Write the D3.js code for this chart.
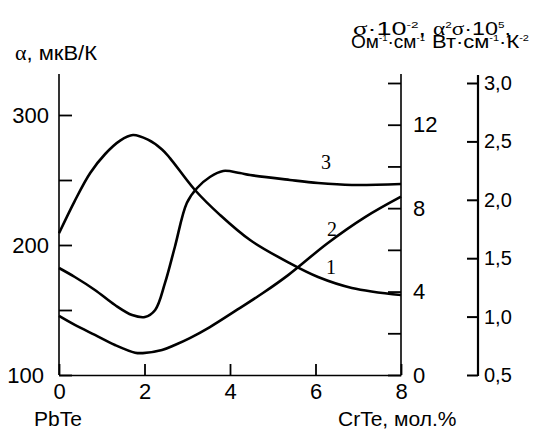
<!DOCTYPE html>
<html>
<head>
<meta charset="utf-8">
<script src="https://cdn.jsdelivr.net/npm/d3@7"></script>
<style>
body { margin: 0; background: #fff; }
</style>
</head>
<body>
<div id="chart"></div>
<script>
// tick values
const xTicks = [0, 2, 4, 6, 8];
const alphaTicks = [100, 150, 200, 250, 300];
const sigmaTicks = [2, 4, 6, 8, 10, 12, 14];
const powerTicks = [0.5, 1.0, 1.5, 2.0, 2.5, 3.0];

// curve 1: alpha, мкВ/К (left axis)
const alphaX = [0, 0.37, 0.73, 1.08, 1.43, 1.73, 2.08, 2.41, 2.6, 3.18, 3.77, 4.47, 5.4, 6.06, 6.85, 8];
const alphaY = [209, 234, 255.4, 270, 280.3, 284.6, 281, 273.5, 266.7, 242.3, 223, 203.8, 186, 175.4, 167, 161.5];

// curve 2: sigma*10^-2, Ом^-1·см^-1 (first right axis)
const sigmaX = [0, 0.37, 0.84, 1.31, 1.78, 1.96, 2.41, 2.71, 3.06, 3.53, 4.16, 4.77, 5.36, 6.29, 7.16, 8];
const sigmaY = [2.83, 2.40, 1.92, 1.44, 1.07, 1.05, 1.20, 1.44, 1.77, 2.30, 3.12, 3.93, 4.79, 6.33, 7.57, 8.55];

// curve 3: alpha^2*sigma*10^5, Вт·см^-1·К^-2 (second right axis)
const powerX = [0, 0.37, 0.84, 1.31, 1.71, 2.01, 2.25, 2.48, 2.71, 2.99, 3.23, 3.53, 3.84, 4.23, 4.47, 5.4, 6.06, 6.85, 8];
const powerY = [1.416, 1.339, 1.228, 1.099, 1.014, 0.997, 1.057, 1.288, 1.596, 1.973, 2.101, 2.195, 2.247, 2.229, 2.212, 2.170, 2.144, 2.127, 2.135];

const width = 536, height = 430;
const plotL = 59, plotR = 401, plotB = 375, plotT = 74;
const thirdX = 478;
const sans = "'Liberation Sans', Arial, sans-serif";
const serif = "'Liberation Serif', 'Times New Roman', serif";

const svg = d3.select("#chart").append("svg")
    .attr("width", width)
    .attr("height", height)
    .style("font-family", sans);

const x = d3.scaleLinear().domain([0, 8]).range([plotL, plotR]);
const yA = d3.scaleLinear().domain([100, 300]).range([plotB, 115]);
const yS = d3.scaleLinear().domain([0, 14]).range([plotB, 83]);
const yP = d3.scaleLinear().domain([0.5, 3.0]).range([plotB, 83]);

// frame lines
svg.append("line").attr("x1", plotL).attr("x2", plotL).attr("y1", plotT).attr("y2", plotB)
    .attr("stroke", "#000").attr("stroke-width", 1.6);
svg.append("line").attr("x1", plotR).attr("x2", plotR).attr("y1", plotT).attr("y2", plotB)
    .attr("stroke", "#000").attr("stroke-width", 1.6);
svg.append("line").attr("x1", thirdX).attr("x2", thirdX).attr("y1", 75).attr("y2", plotB + 1)
    .attr("stroke", "#000").attr("stroke-width", 2.2);

function styleTicks(g, size, w) {
    g.selectAll(".tick line").attr("stroke-width", w);
    g.selectAll(".tick text").attr("font-size", size).attr("fill", "#000").attr("font-family", sans);
}

// bottom axis
svg.append("g")
    .attr("transform", `translate(0,${plotB})`)
    .call(d3.axisBottom(x).tickValues(xTicks).tickSizeInner(-11).tickSizeOuter(0).tickPadding(8))
    .call(g => g.select(".domain").attr("stroke-width", 1.6))
    .call(g => styleTicks(g, 22, 1.8));

// left axis (alpha)
svg.append("g")
    .attr("transform", `translate(${plotL},0)`)
    .call(d3.axisLeft(yA).tickValues(alphaTicks).tickSizeInner(-13).tickSizeOuter(0).tickPadding(10)
        .tickFormat(d => d % 100 === 0 ? d : ""))
    .call(g => g.select(".domain").remove())
    .call(g => styleTicks(g, 22, 1.8))
    .call(g => g.selectAll(".tick text").filter(d => d === 100).attr("x", -15));

// first right axis (sigma)
svg.append("g")
    .attr("transform", `translate(${plotR},0)`)
    .call(d3.axisRight(yS).tickValues([0].concat(sigmaTicks)).tickSizeInner(-13).tickSizeOuter(0).tickPadding(12)
        .tickFormat(d => d % 4 === 0 ? d : ""))
    .call(g => g.select(".domain").remove())
    .call(g => styleTicks(g, 22, 1.8));

// second right axis (alpha^2 sigma)
svg.append("g")
    .attr("transform", `translate(${thirdX},0)`)
    .call(d3.axisRight(yP).tickValues(powerTicks).tickSizeInner(-11).tickSizeOuter(0).tickPadding(6)
        .tickFormat(d => d3.format(".1f")(d).replace(".", ",")))
    .call(g => g.select(".domain").remove())
    .call(g => styleTicks(g, 20, 2));

// curves
const curves = [
    { xs: alphaX, ys: alphaY, y: yA },
    { xs: sigmaX, ys: sigmaY, y: yS },
    { xs: powerX, ys: powerY, y: yP }
];
curves.forEach(c => {
    const pts = c.xs.map((v, i) => [v, c.ys[i]]);
    const line = d3.line()
        .x(d => x(d[0]))
        .y(d => c.y(d[1]))
        .curve(d3.curveCatmullRom.alpha(0.5));
    svg.append("path")
        .datum(pts)
        .attr("d", line)
        .attr("fill", "none")
        .attr("stroke", "#000")
        .attr("stroke-width", 2.6);
});

// curve numbers
[["1", 331, 274], ["2", 332, 236], ["3", 326, 169]].forEach(([t, px, py]) => {
    svg.append("text").attr("x", px).attr("y", py).attr("text-anchor", "middle")
        .attr("font-family", serif).attr("font-size", 20).text(t);
});

// text with superscripts, stretched to a given width
function rich(px, py, parts, size, len) {
    const t = svg.append("text").attr("x", px).attr("y", py).attr("font-size", size);
    if (len) t.attr("textLength", len).attr("lengthAdjust", "spacingAndGlyphs");
    let up = false;
    parts.forEach(p => {
        const sup = p.sup === true;
        const ts = t.append("tspan").text(p.t);
        if (p.greek) ts.attr("font-family", serif);
        if (sup) ts.attr("font-size", size * 0.5);
        if (sup && !up) { ts.attr("dy", -size * 0.4); up = true; }
        else if (!sup && up) { ts.attr("dy", size * 0.4); up = false; }
    });
    return t;
}

rich(15, 60, [{ t: "α", greek: true }, { t: ", мкВ/К" }], 20, 82);

rich(353, 35, [{ t: "σ", greek: true }, { t: "·10" }, { t: "-2", sup: true }, { t: "," }], 18, 73);
rich(351, 48, [{ t: "Ом" }, { t: "-1", sup: true }, { t: "·см" }, { t: "-1", sup: true }], 18, 74);
rich(433, 35, [{ t: "α", greek: true }, { t: "2", sup: true }, { t: "σ", greek: true }, { t: "·10" }, { t: "5", sup: true }, { t: "," }], 18, 78);
rich(432, 48, [{ t: "Вт·см" }, { t: "-1", sup: true }, { t: "·К" }, { t: "-2", sup: true }], 18, 97);

svg.append("text").attr("x", 34).attr("y", 426).attr("font-size", 21).text("PbTe");
svg.append("text").attr("x", 338).attr("y", 426).attr("font-size", 21).text("CrTe, мол.%");
</script>
</body>
</html>
